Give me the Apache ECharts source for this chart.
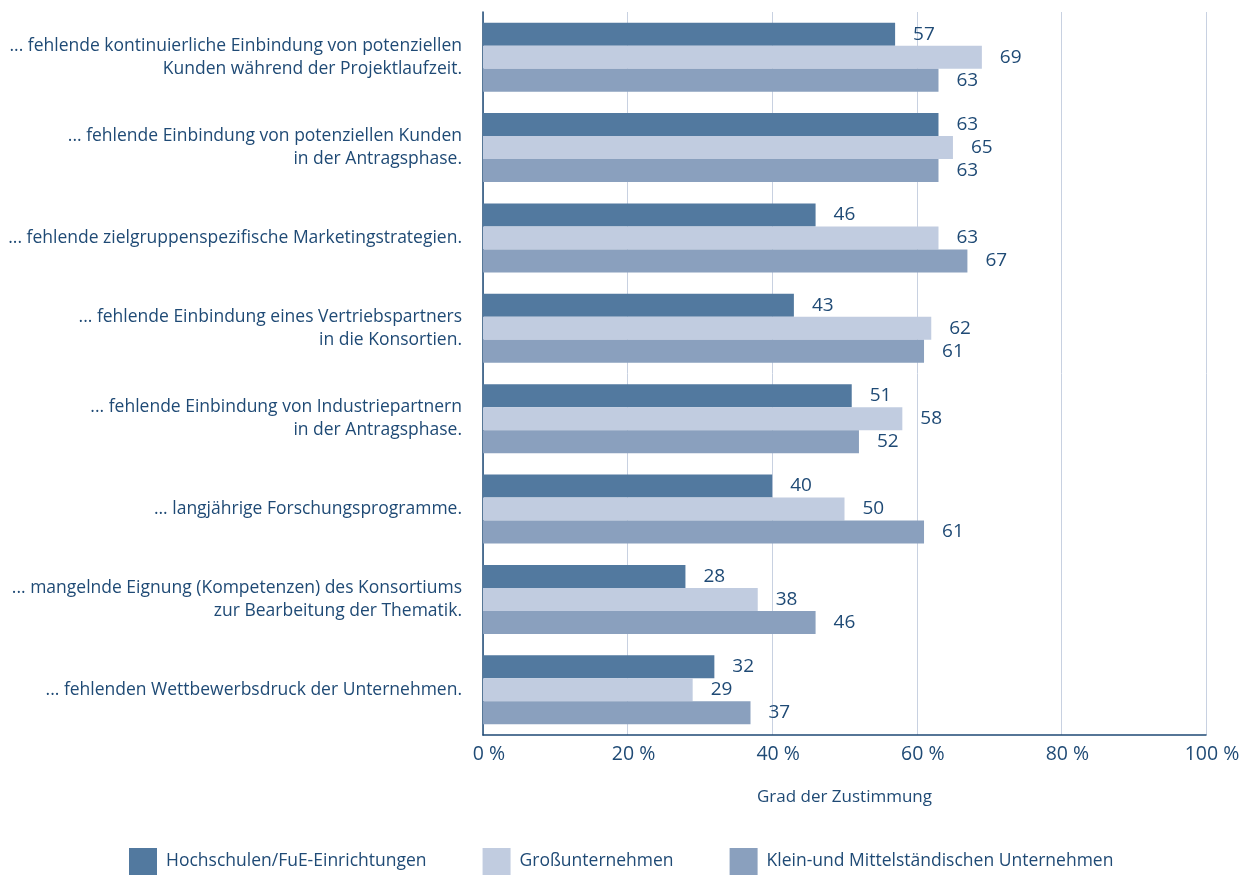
<!DOCTYPE html>
<html>
<head>
<meta charset="utf-8">
<script src="https://cdn.jsdelivr.net/npm/echarts@6/dist/echarts.min.js"></script>
<style>
  html, body { margin: 0; padding: 0; background: #fff; }
  #chart { width: 1251px; height: 875px; }
</style>
</head>
<body>
<div id="chart"></div>
<script>
// Kategorien (oben nach unten)
const categories = [
    '... fehlende kontinuierliche Einbindung von potenziellen\nKunden während der Projektlaufzeit.',
    '... fehlende Einbindung von potenziellen Kunden\nin der Antragsphase.',
    '... fehlende zielgruppenspezifische Marketingstrategien.',
    '... fehlende Einbindung eines Vertriebspartners\nin die Konsortien.',
    '... fehlende Einbindung von Industriepartnern\nin der Antragsphase.',
    '... langjährige Forschungsprogramme.',
    '... mangelnde Eignung (Kompetenzen) des Konsortiums\nzur Bearbeitung der Thematik.',
    '... fehlenden Wettbewerbsdruck der Unternehmen.'
]
const seriesNames = ['Hochschulen/FuE-Einrichtungen', 'Großunternehmen', 'Klein-und Mittelständischen Unternehmen']
const hochschulen = [57, 63, 46, 43, 51, 40, 28, 32]
const grossunternehmen = [69, 65, 63, 62, 58, 50, 38, 29]
const kmu = [63, 63, 67, 61, 52, 61, 46, 37]
const xTicks = [0, 20, 40, 60, 80, 100]

const COLORS = ['#52799f', '#c1cce0', '#8aa0be']
const TEXT = '#1f4a75'
const FONT = "'Open Sans', 'Noto Sans', sans-serif"

const chart = echarts.init(document.getElementById('chart'))

const mkSeries = (name, data, color) => ({
    name,
    type: 'bar',
    data,
    barWidth: 23,
    barGap: '0%',
    itemStyle: { color },
    label: {
        show: true,
        position: 'right',
        distance: 18,
        color: TEXT,
        fontSize: 19,
        fontFamily: FONT
    },
    silent: true
})

chart.setOption({
    animation: false,
    textStyle: { fontFamily: FONT, color: TEXT },
    grid: { left: 483, right: 45, top: 12, bottom: 140 },
    legend: {
        left: 129,
        top: 848,
        padding: 0,
        itemWidth: 28,
        itemHeight: 27,
        itemGap: 56,
        icon: 'rect',
        textStyle: { color: TEXT, fontSize: 17.5, fontFamily: FONT, padding: [0, 0, 0, 4] },
        data: seriesNames
    },
    xAxis: {
        type: 'value',
        min: xTicks[0],
        max: xTicks[xTicks.length - 1],
        interval: 20,
        name: 'Grad der Zustimmung',
        nameLocation: 'middle',
        nameGap: 54,
        nameTextStyle: { color: TEXT, fontSize: 17, fontFamily: FONT },
        axisLine: { show: true, lineStyle: { color: '#1f4a75', width: 1.5 } },
        axisTick: { show: false },
        axisLabel: {
            color: TEXT,
            fontSize: 19.5,
            fontFamily: FONT,
            margin: 9,
            padding: [0, 0, 0, 12],
            formatter: '{value} %'
        },
        splitLine: { show: true, lineStyle: { color: '#c8d1e1', width: 1 } }
    },
    yAxis: {
        type: 'category',
        data: categories,
        inverse: true,
        axisLine: { show: true, lineStyle: { color: '#1f4a75', width: 1.5 } },
        axisTick: { show: false },
        axisLabel: {
            color: TEXT,
            fontSize: 17.5,
            fontFamily: FONT,
            margin: 21,
            lineHeight: 23,
            align: 'right'
        }
    },
    series: [
        mkSeries(seriesNames[0], hochschulen, COLORS[0]),
        mkSeries(seriesNames[1], grossunternehmen, COLORS[1]),
        mkSeries(seriesNames[2], kmu, COLORS[2])
    ]
})
</script>
</body>
</html>
